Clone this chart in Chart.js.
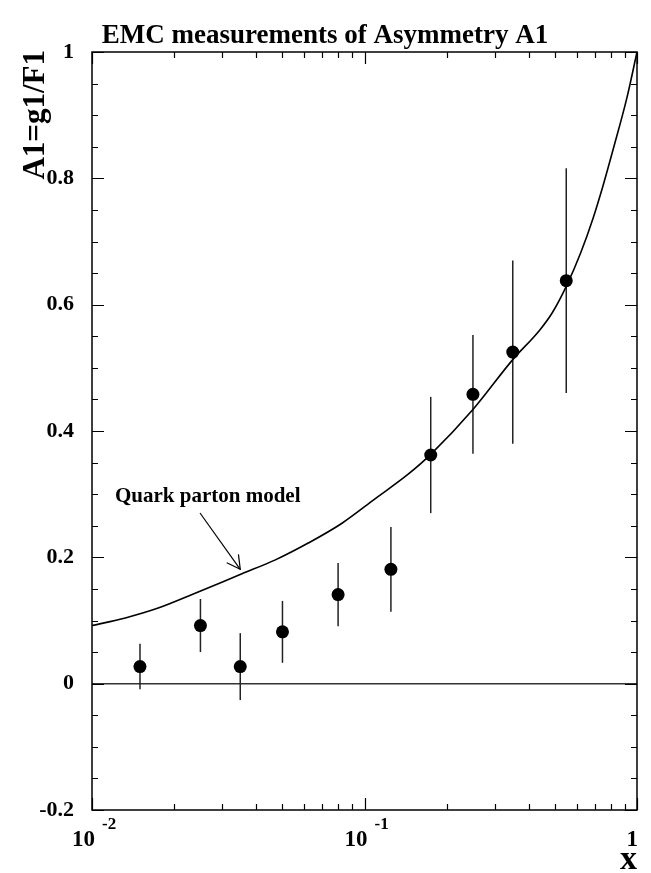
<!DOCTYPE html>
<html>
<head>
<meta charset="utf-8">
<script src="https://cdn.jsdelivr.net/npm/chart.js@4.4.1/dist/chart.umd.min.js"></script>
<style>
  html, body { margin: 0; padding: 0; background: #fff; }
  #wrap { width: 651px; height: 873px; position: relative; }
</style>
</head>
<body>
<div id="wrap"><canvas id="c" width="651" height="873"></canvas></div>
<script>
// EMC asymmetry measurements (x, A1, symmetric error)
const xValues   = [0.015, 0.025, 0.035, 0.05, 0.08, 0.125, 0.175, 0.25, 0.35, 0.55];
const a1Values  = [0.027, 0.092, 0.027, 0.082, 0.141, 0.181, 0.362, 0.458, 0.525, 0.638];
const errValues = [0.036, 0.042, 0.053, 0.049, 0.050, 0.067, 0.092, 0.094, 0.145, 0.178];

// Quark parton model prediction
const modelX = [0.01, 0.01325, 0.0176, 0.0233, 0.0355, 0.0471, 0.0624, 0.0827, 0.1096, 0.145, 0.175, 0.25, 0.35, 0.44, 0.49, 0.55, 0.62, 0.69, 0.75, 0.82, 0.92, 1.0];
const modelY = [0.092, 0.104, 0.120, 0.141, 0.174, 0.196, 0.223, 0.254, 0.293, 0.332, 0.363, 0.434, 0.513, 0.560, 0.588, 0.629, 0.681, 0.737, 0.788, 0.848, 0.929, 1.0];

// Annotation arrow tip (data units)
const arrowTip = { x: 0.035, y: 0.181 };

// Axis tick labels
const yTickValues = [-0.2, 0, 0.2, 0.4, 0.6, 0.8, 1];
const yTickLabels = ['-0.2', '0', '0.2', '0.4', '0.6', '0.8', '1'];
const xDecades = [0.01, 0.1, 1];
const xDecadeBase = ['10', '10', '1'];
const xDecadeExp = ['-2', '-1', ''];

const SERIF = '"Liberation Serif", "DejaVu Serif", serif';

const framePlugin = {
  id: 'frame',
  beforeDatasetsDraw(chart) {
    const { ctx, chartArea: a, scales: { x, y } } = chart;
    ctx.save();
    // zero line
    ctx.strokeStyle = '#333';
    ctx.lineWidth = 1.5;
    const y0 = y.getPixelForValue(0);
    ctx.beginPath(); ctx.moveTo(a.left, y0); ctx.lineTo(a.right, y0); ctx.stroke();
    // error bars
    ctx.strokeStyle = '#222';
    ctx.lineWidth = 1.5;
    xValues.forEach((xv, i) => {
      const px = x.getPixelForValue(xv);
      ctx.beginPath();
      ctx.moveTo(px, y.getPixelForValue(a1Values[i] + errValues[i]));
      ctx.lineTo(px, y.getPixelForValue(a1Values[i] - errValues[i]));
      ctx.stroke();
    });
    ctx.restore();
  },
  afterDraw(chart) {
    const { ctx, chartArea: a, scales: { x, y } } = chart;
    ctx.save();
    ctx.strokeStyle = '#000';
    ctx.fillStyle = '#000';
    ctx.lineWidth = 1.5;
    ctx.strokeRect(a.left, a.top, a.right - a.left, a.bottom - a.top);

    // y ticks (both sides, inward)
    ctx.lineWidth = 1.2;
    for (let k = 0; k <= 24; k++) {
      const v = -0.2 + k * 0.05;
      const py = Math.round(y.getPixelForValue(v)) + 0.5;
      const len = (k % 4 === 0) ? 12 : 6;
      ctx.beginPath();
      ctx.moveTo(a.left, py); ctx.lineTo(a.left + len, py);
      ctx.moveTo(a.right, py); ctx.lineTo(a.right - len, py);
      ctx.stroke();
    }
    // x ticks (log decades and sub-decades, inward)
    for (let d = 0.01; d < 1.0001; d *= 10) {
      for (let m = 1; m <= 9; m++) {
        const v = d * m;
        if (v > 1.0001) break;
        const px = Math.round(x.getPixelForValue(v)) + 0.5;
        const len = (m === 1) ? 12 : 6;
        ctx.beginPath();
        ctx.moveTo(px, a.bottom); ctx.lineTo(px, a.bottom - len);
        ctx.moveTo(px, a.top); ctx.lineTo(px, a.top + len);
        ctx.stroke();
        if (d > 0.5) break;
      }
    }

    // y tick labels
    ctx.font = 'bold 22px ' + SERIF;
    ctx.textAlign = 'right';
    ctx.textBaseline = 'middle';
    yTickValues.forEach((v, i) => {
      ctx.fillText(yTickLabels[i], a.left - 18, y.getPixelForValue(v));
    });

    // x tick labels (powers of ten)
    ctx.textBaseline = 'alphabetic';
    xDecades.forEach((v, i) => {
      const px = x.getPixelForValue(v);
      ctx.font = 'bold 23px ' + SERIF;
      if (xDecadeExp[i]) {
        ctx.textAlign = 'right';
        ctx.fillText(xDecadeBase[i], px + 3, 846);
        ctx.font = 'bold 17px ' + SERIF;
        ctx.textAlign = 'left';
        ctx.fillText(xDecadeExp[i], px + 10, 829);
      } else {
        ctx.textAlign = 'right';
        ctx.fillText(xDecadeBase[i], px + 1, 846);
      }
    });

    // titles
    ctx.font = 'bold 27px ' + SERIF;
    ctx.textAlign = 'center';
    ctx.fillText('EMC measurements of Asymmetry A1', 325, 43);

    ctx.font = 'bold 34px ' + SERIF;
    ctx.textAlign = 'right';
    ctx.fillText('x', a.right, 869);

    ctx.save();
    ctx.translate(44, a.top - 2);
    ctx.rotate(-Math.PI / 2);
    ctx.font = 'bold 31px ' + SERIF;
    ctx.textAlign = 'right';
    ctx.fillText('A1=g1/F1', 0, 0);
    ctx.restore();

    // model annotation with arrow
    ctx.font = 'bold 21px ' + SERIF;
    ctx.textAlign = 'left';
    ctx.fillText('Quark parton model', 115, 502);
    const sx = 200, sy = 513;
    const tx = x.getPixelForValue(arrowTip.x), ty = y.getPixelForValue(arrowTip.y);
    ctx.lineWidth = 1.2;
    ctx.beginPath(); ctx.moveTo(sx, sy); ctx.lineTo(tx, ty); ctx.stroke();
    const ang = Math.atan2(sy - ty, sx - tx);
    const hl = 15, spread = Math.PI / 6.3;
    ctx.beginPath();
    ctx.moveTo(tx + hl * Math.cos(ang + spread), ty + hl * Math.sin(ang + spread));
    ctx.lineTo(tx, ty);
    ctx.lineTo(tx + hl * Math.cos(ang - spread), ty + hl * Math.sin(ang - spread));
    ctx.stroke();
    ctx.restore();
  }
};

new Chart(document.getElementById('c'), {
  type: 'scatter',
  data: {
    datasets: [
      {
        label: 'EMC',
        data: xValues.map((v, i) => ({ x: v, y: a1Values[i] })),
        pointRadius: 6.5,
        pointBackgroundColor: '#000',
        pointBorderColor: '#000',
        pointBorderWidth: 0,
        showLine: false
      },
      {
        label: 'Quark parton model',
        data: modelX.map((v, i) => ({ x: v, y: modelY[i] })),
        showLine: true,
        borderColor: '#000',
        borderWidth: 1.6,
        pointRadius: 0,
        cubicInterpolationMode: 'monotone',
        fill: false
      }
    ]
  },
  options: {
    responsive: false,
    animation: false,
    events: [],
    layout: { padding: { left: 92, right: 14, top: 52, bottom: 63 } },
    plugins: { legend: { display: false }, tooltip: { enabled: false } },
    scales: {
      x: { type: 'logarithmic', min: 0.01, max: 1, display: false },
      y: { type: 'linear', min: -0.2, max: 1, display: false }
    }
  },
  plugins: [framePlugin]
});
</script>
</body>
</html>
